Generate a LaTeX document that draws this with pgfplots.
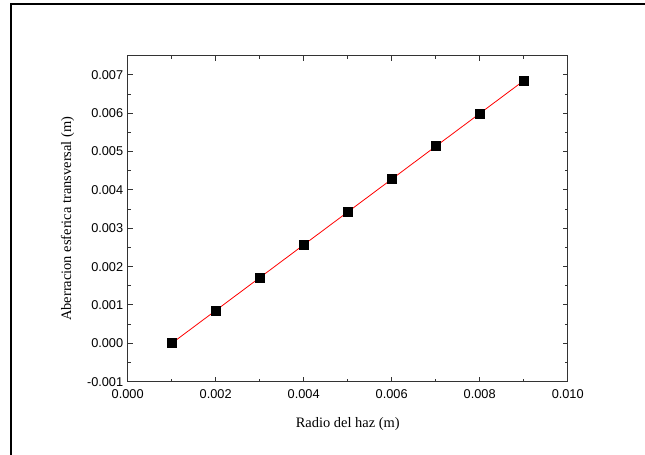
\documentclass[border=0pt]{standalone}
\usepackage{fontspec}
\setmainfont{Liberation Serif}
\newfontfamily\arial{Liberation Sans}
\usepackage{pgfplots}
\pgfplotsset{compat=1.18}
\begin{document}
\begin{tikzpicture}
\useasboundingbox (0,0) rectangle (645bp,455bp);
\draw[line width=1.3bp,black] (11bp,0) -- (11bp,451bp) -- (645bp,451bp);
\begin{axis}[
  at={(127.7bp,73.3bp)}, anchor=south west,
  scale only axis, width=440bp, height=326bp,
  xmin=0, xmax=0.010, ymin=-0.001, ymax=0.0075,
  xtick={0,0.002,...,0.010},
  ytick={-0.001,0,0.001,0.002,0.003,0.004,0.005,0.006,0.007},
  minor xtick={0.001,0.003,0.005,0.007,0.009},
  minor ytick={-0.0005,0.0005,0.0015,0.0025,0.0035,0.0045,0.0055,0.0065,0.0075},
  tick align=inside,
  major tick length=5bp, minor tick length=3bp,
  axis line style={line width=1.2bp, black!80},
  every tick/.style={line width=1bp, black!80},
  /pgf/number format/assume math mode=true,
  scaled ticks=false,
  xticklabel={\pgfmathprintnumber[fixed,fixed zerofill,precision=3]{\tick}},
  yticklabel={\pgfmathprintnumber[fixed,fixed zerofill,precision=3]{\tick}},
  ticklabel style={font=\arial\fontsize{12.8}{14}\selectfont},
  xticklabel style={yshift=-4bp},
  yticklabel style={xshift=-1bp},
  xlabel={Radio del haz (m)},
  ylabel={Aberracion esferica transversal (m)},
  label style={font=\fontsize{14.5}{17}\selectfont},
  xlabel style={at={(axis description cs:0.5,0)}, anchor=center, yshift=-42bp},
  ylabel style={at={(axis description cs:0,0.5)}, anchor=center, yshift=60bp},
  clip=false,
]
\addplot[red, line width=0.8bp, mark=square*, mark size=4.5bp,
  mark options={black, fill=black, solid}] coordinates {
  (0.001,0.00000)
  (0.002,0.000856)
  (0.003,0.001712)
  (0.004,0.002568)
  (0.005,0.003424)
  (0.006,0.004280)
  (0.007,0.005136)
  (0.008,0.005992)
  (0.009,0.006848)
};
\end{axis}
\end{tikzpicture}
\end{document}
